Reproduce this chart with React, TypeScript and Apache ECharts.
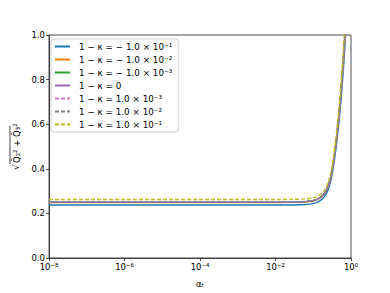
import React, { useEffect, useRef } from "react";
import * as echarts from "echarts";

const alphaValues = [1e-8, 1e-6, 1e-4, 1e-3, 1e-2, 0.03, 0.06, 0.1, 0.15, 0.2, 0.25, 0.3, 0.35, 0.4, 0.45, 0.5, 0.55, 0.6, 0.65, 0.7, 0.75, 0.8];

const seriesNames = [
  "1 − κ = − 1.0 × 10⁻¹",
  "1 − κ = − 1.0 × 10⁻²",
  "1 − κ = − 1.0 × 10⁻³",
  "1 − κ = 0",
  "1 − κ = 1.0 × 10⁻³",
  "1 − κ = 1.0 × 10⁻²",
  "1 − κ = 1.0 × 10⁻¹",
];

const seriesColors = ["#1f77b4", "#ff7f0e", "#2ca02c", "#9467bd", "#e377c2", "#7f7f7f", "#bcbd22"];
const seriesDashed = [false, false, false, false, true, true, true];

const valsM1 = [0.2375, 0.2375, 0.2375, 0.2375, 0.2376, 0.238, 0.24, 0.244, 0.256, 0.276, 0.308, 0.355, 0.42, 0.49, 0.565, 0.64, 0.72, 0.8, 0.885, 0.97, 1.06, 1.15];
const valsM2 = [0.2488, 0.2488, 0.2488, 0.2488, 0.2489, 0.2493, 0.2514, 0.2557, 0.2688, 0.2887, 0.3224, 0.3722, 0.44, 0.5135, 0.592, 0.671, 0.754, 0.838, 0.926, 1.015, 1.11, 1.2];
const valsM3 = [0.2499, 0.2499, 0.2499, 0.2499, 0.25, 0.2504, 0.2525, 0.2568, 0.2699, 0.2898, 0.3238, 0.3738, 0.4418, 0.5158, 0.5947, 0.6738, 0.7575, 0.8418, 0.9298, 1.0195, 1.118, 1.208];
const valsZero = [0.25, 0.25, 0.25, 0.25, 0.2501, 0.2505, 0.2526, 0.257, 0.27, 0.29, 0.324, 0.374, 0.442, 0.516, 0.595, 0.674, 0.758, 0.842, 0.93, 1.02, 1.12, 1.21];
const valsP3 = [0.2501, 0.2501, 0.2501, 0.2501, 0.2502, 0.2506, 0.2527, 0.2571, 0.2701, 0.2902, 0.3242, 0.3742, 0.4422, 0.5163, 0.5953, 0.6745, 0.7585, 0.8425, 0.931, 1.021, 1.121, 1.211];
const valsP2 = [0.2513, 0.2513, 0.2513, 0.2513, 0.2514, 0.2518, 0.254, 0.2584, 0.2714, 0.2916, 0.3258, 0.376, 0.4444, 0.5188, 0.5982, 0.6776, 0.762, 0.8465, 0.935, 1.026, 1.126, 1.217];
const valsP1 = [0.2625, 0.2625, 0.2625, 0.2625, 0.2626, 0.263, 0.2652, 0.27, 0.283, 0.305, 0.34, 0.392, 0.464, 0.541, 0.624, 0.707, 0.796, 0.884, 0.978, 1.07, 1.17, 1.27];

const allValues = [valsM1, valsM2, valsM3, valsZero, valsP3, valsP2, valsP1];

const yTicks = [0, 0.2, 0.4, 0.6, 0.8, 1.0];
const xExponentLabels: Record<number, string> = { [-8]: "10⁻⁸", [-6]: "10⁻⁶", [-4]: "10⁻⁴", [-2]: "10⁻²", [0]: "10⁰" };

const FONT = "DejaVu Sans";

export default function App() {
  const ref = useRef<HTMLDivElement>(null);
  useEffect(() => {
    if (!ref.current) return;
    const chart = echarts.init(ref.current, undefined, { renderer: "svg" });
    const series = seriesNames.map((name, i) => ({
      name,
      type: "line",
      data: alphaValues.map((a, j) => [a, allValues[i][j]]),
      showSymbol: false,
      symbol: "none",
      smooth: 0.3,
      clip: true,
      color: seriesColors[i],
      lineStyle: {
        color: seriesColors[i],
        width: 1.4,
        type: seriesDashed[i] ? [4, 2] : "solid",
      },
      itemStyle: { color: seriesColors[i] },
      z: 2 + i,
    }));
    chart.setOption({
      animation: false,
      backgroundColor: "#ffffff",
      color: seriesColors,
      grid: {
        left: 49,
        right: 39,
        top: 35,
        bottom: 32,
        show: true,
        borderColor: "#222",
        borderWidth: 0.8,
        backgroundColor: "transparent",
      },
      legend: {
        orient: "vertical",
        left: 51,
        top: 39,
        itemWidth: 15,
        itemHeight: 9,
        itemGap: 4,
        padding: [3, 6, 3, 3],
        borderColor: "#d0d0d0",
        borderWidth: 1,
        borderRadius: 3,
        backgroundColor: "rgba(255,255,255,0.85)",
        itemStyle: { opacity: 0 },
        textStyle: { fontFamily: FONT, fontSize: 8.8, color: "#000", padding: [0, 0, 0, 4] },
        data: seriesNames,
      },
      xAxis: {
        type: "log",
        logBase: 10,
        min: 1e-8,
        max: 1,
        interval: 2,
        name: "αₜ",
        nameLocation: "middle",
        nameGap: 21,
        nameTextStyle: { fontFamily: FONT, fontSize: 8.5, color: "#000" },
        axisLine: { show: true, lineStyle: { color: "#222", width: 0.8 } },
        axisTick: { show: true, inside: false, length: 3, lineStyle: { color: "#222", width: 0.8 } },
        minorTick: { show: false },
        splitLine: { show: false },
        axisLabel: {
          fontFamily: FONT,
          fontSize: 8.5,
          color: "#000",
          margin: 4,
          formatter: (v: number) => {
            const e = Math.round(Math.log10(v));
            return xExponentLabels[e] ?? "";
          },
        },
      },
      yAxis: {
        type: "value",
        min: 0,
        max: 1,
        interval: 0.2,
        axisLine: { show: true, lineStyle: { color: "#222", width: 0.8 } },
        axisTick: { show: true, inside: false, length: 3, lineStyle: { color: "#222", width: 0.8 } },
        splitLine: { show: false },
        axisLabel: {
          fontFamily: FONT,
          fontSize: 8.5,
          color: "#000",
          margin: 4,
          formatter: (v: number) => {
            const t = yTicks.find((y) => Math.abs(y - v) < 1e-9);
            return t !== undefined ? t.toFixed(1) : "";
          },
        },
      },
      graphic: [
        {
          type: "group",
          x: 16,
          y: 148,
          rotation: Math.PI / 2,
          children: [
            {
              type: "text",
              x: -22,
              y: 0,
              style: { text: "√", fontFamily: FONT, fontSize: 9, fill: "#000", verticalAlign: "middle", align: "left" },
            },
            {
              type: "text",
              x: -15,
              y: 1,
              style: { text: "Q̃₂² + Q̃₃²", fontFamily: FONT, fontSize: 8.5, fill: "#000", verticalAlign: "middle", align: "left" },
            },
            {
              type: "line",
              shape: { x1: -16, y1: -6, x2: 22, y2: -6 },
              style: { stroke: "#000", lineWidth: 0.7 },
            },
          ],
        },
      ],
      series,
    });
    return () => chart.dispose();
  }, []);
  return <div ref={ref} style={{ position: "fixed", left: 0, top: 0, width: 390, height: 293 }} />;
}
